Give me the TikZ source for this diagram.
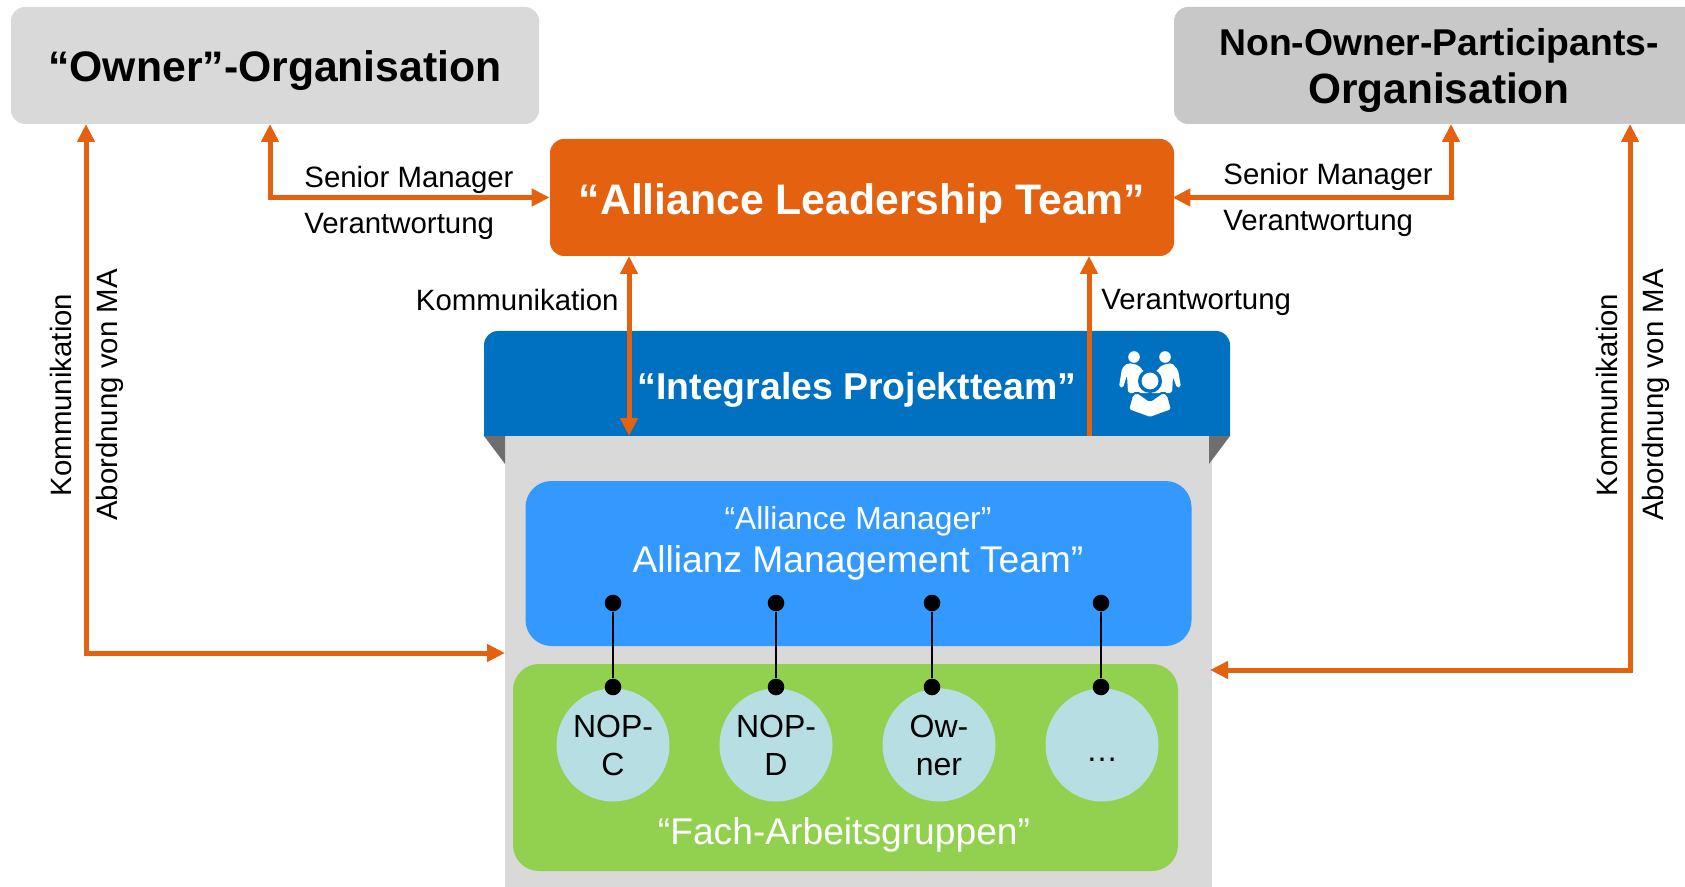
\documentclass[tikz,border=0pt]{standalone}
\usepackage{fontspec}
\setmainfont{Liberation Sans}
\usetikzlibrary{positioning,arrows.meta,calc}
\definecolor{orgA}{HTML}{D9D9D9}
\definecolor{orgB}{HTML}{C8C8C8}
\definecolor{altOrange}{HTML}{E46110}
\definecolor{iptBlue}{HTML}{0070C0}
\definecolor{amtBlue}{HTML}{3399FF}
\definecolor{fagGreen}{HTML}{92D050}
\definecolor{wgCyan}{HTML}{B7DEE3}
\definecolor{flapGrey}{HTML}{6E6E6E}
\begin{document}
\begin{tikzpicture}[x=0.5pt,y=-0.5pt,
    box/.style={shape=rectangle,rounded corners=7pt,inner sep=0pt},
    link/.style={draw=altOrange,line width=2.5pt,-{Triangle[length=9pt,width=8.5pt]}},
    dlink/.style={link,{Triangle[length=9pt,width=8.5pt]}-{Triangle[length=9pt,width=8.5pt]}},
    lab/.style={font=\fontsize{14.7}{17}\selectfont,inner sep=0pt},
    head/.style={font=\fontsize{21.35}{24.5}\bfseries\selectfont,inner sep=0pt},
    dot/.style={circle,fill=black,inner sep=0pt,minimum size=8.3pt},
    wg/.style={circle,fill=wgCyan,inner sep=0pt,minimum size=56.5pt,align=center,font=\fontsize{16}{19}\selectfont},
]
\useasboundingbox (0,0) rectangle (1685,887);
\node[box,fill=orgA,minimum width=264pt,minimum height=58.5pt] (owner) at (275,65.5) {};
\node[head] at (275,71) {“Owner”-Organisation};
\fill[orgB] (1685,7) [rounded corners=7pt] -- (1174,7) -- (1174,124) [sharp corners] -- (1685,124) -- cycle;
\node[inner sep=0pt,align=center,font=\fontsize{18.65}{24}\bfseries\selectfont] (nop) at (1439,70) {Non-Owner-Participants-\\{\fontsize{21.2}{24}\bfseries\selectfont Organisation}};
\node[box,fill=altOrange,text=white,minimum width=312pt,minimum height=58.5pt] (alt) at (862,197.5) {};
\node[head,text=white] (altlabel) at (862,203) {“Alliance Leadership Team”};
\fill[iptBlue] (484,436) [rounded corners=7pt] -- (484,331) -- (1230,331) [sharp corners] -- (1230,436) -- cycle;
\node[shape=rectangle,fill=orgA,inner sep=0pt,minimum width=353.5pt,minimum height=225.5pt] (ipt) at (858.5,661.5) {};
\fill[flapGrey] (484,436) -- (505,436) -- (505,464) -- cycle;
\fill[flapGrey] (1230,436) -- (1209,436) -- (1209,464) -- cycle;
\node[text=white,inner sep=0pt,font=\fontsize{18.7}{21}\bfseries\selectfont] (iptlabel) at (857,390) {“Integrales Projektteam”};
\node[box,fill=amtBlue,minimum width=333pt,minimum height=82.5pt,rounded corners=13pt] (amt) at (858.5,563.5) {};
\node[text=white,inner sep=0pt,font=\fontsize{15.9}{18}\selectfont] at (858,521) {“Alliance Manager”};
\node[text=white,inner sep=0pt,font=\fontsize{18.6}{21}\selectfont] at (858,563) {Allianz Management Team”};
\node[box,fill=fagGreen,minimum width=332.5pt,minimum height=103.5pt,rounded corners=13pt] (fag) at (845.5,767.5) {};
\node[text=white,inner sep=0pt,font=\fontsize{18.6}{21}\selectfont] at (844,835) {“Fach-Arbeitsgruppen”};
\node[wg] (wgc) at (613,745) {NOP-\\C};
\node[wg] (wgd) at (776,745) {NOP-\\D};
\node[wg] (wgo) at (939,745) {Ow-\\ner};
\node[wg,text height=16pt] (wgx) at (1102,745) {…};
\foreach \i/\xx in {1/613,2/776,3/932,4/1101}{
    \node[dot] (a\i) at (\xx,603) {};
    \node[dot] (b\i) at (\xx,687) {};
    \draw[line width=1.3pt] (a\i) -- (b\i);
}
\coordinate (ownerl) at (86,124);
\coordinate (ownerr) at (270,124);
\coordinate (nopl) at (1451,124);
\coordinate (nopr) at (1630,124);
\coordinate (teaml) at (505,653);
\coordinate (teamr) at (1212,670);
\coordinate (ipta) at (629,436);
\coordinate (iptb) at (1089,436);
\coordinate (alta) at (629,256);
\coordinate (altb) at (1089,256);
\draw[dlink] (ownerl) |- (teaml);
\draw[dlink] (ownerr) |- (alt.west);
\draw[dlink,shorten >=-1pt] (nopl) |- (alt.east);
\draw[dlink,shorten >=-1pt] (nopr) |- (teamr);
\draw[dlink] (alta) -- (ipta);
\draw[link] (iptb) -- (altb);
\node[lab,anchor=west] at (304,180) {Senior Manager};
\node[lab,anchor=west] at (304,226) {Verantwortung};
\node[lab,anchor=west] at (1223,177) {Senior Manager};
\node[lab,anchor=west] at (1223,223) {Verantwortung};
\node[lab,anchor=east] at (619,300) {Kommunikation};
\node[lab,anchor=west] at (1101,302) {Verantwortung};
\node[lab,rotate=90] at (61,395) {Kommunikation};
\node[lab,rotate=90] at (110,395) {Abordnung von MA};
\node[lab,rotate=90] at (1607,395) {Kommunikation};
\node[lab,rotate=90] at (1656,395) {Abordnung von MA};
\fill[white] (1134,357) circle (2.9pt) (1165,357) circle (2.9pt);
\fill[white,rounded corners=1pt] (1128,363) -- (1122,368) -- (1119,387) -- (1123,388) -- (1127,375) -- (1128,393) -- (1150,393) -- (1150,378) -- (1138,365) -- cycle;
\fill[white,rounded corners=1pt] (1172,363) -- (1178,370) -- (1181,387) -- (1177,388) -- (1173,377) -- (1172,393) -- (1150,393) -- (1150,378) -- (1162,365) -- cycle;
\fill[iptBlue] (1150,381) circle (6pt);
\fill[white] (1150,381) circle (4.2pt);
\filldraw[fill=white,draw=iptBlue,line width=1pt,rounded corners=1pt] (1137,392) -- (1150,401) -- (1163,392) -- (1168,395) -- (1172,410) -- (1150,418) -- (1128,410) -- (1132,395) -- cycle;
\end{tikzpicture}
\end{document}
